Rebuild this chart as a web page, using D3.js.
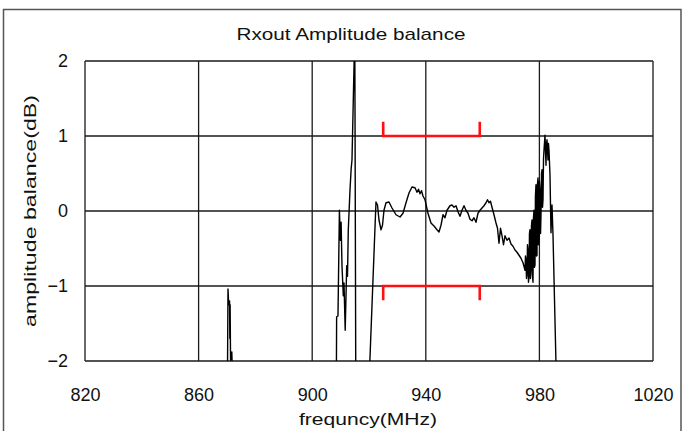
<!DOCTYPE html>
<html><head><meta charset="utf-8">
<script src="https://cdn.jsdelivr.net/npm/d3@7"></script>
<style>html,body{margin:0;padding:0;background:#fff;overflow:hidden}svg{display:block}text{font-family:"Liberation Sans",Arial,sans-serif;fill:#111}</style>
</head><body>
<svg id="chart" width="683" height="431"></svg>
<script>
// ---- data ----
const title = "Rxout Amplitude balance";
const xLabel = "frequncy(MHz)";
const yLabel = "amplitude balance(dB)";
const xTicks = [820, 860, 900, 940, 980, 1020];
const yTicks = [2, 1, 0, -1, -2];
// spec window (MHz) and limits (dB)
const specFreq = [925, 959];
const specLimits = [1, -1];

// measured trace, split into pieces (values beyond +/-2 dB leave the plot)
const seg1Freq = [870.15, 870.35, 870.6, 870.9, 871.0, 871.1, 871.25, 871.7, 872.0];
const seg1Val  = [-2.3, -1.04, -1.25, -1.2, -1.7, -1.25, -1.99, -1.88, -2.3];

const seg2Freq = [908.5, 908.6, 909.08, 909.58, 909.93, 910.18, 910.49, 910.95, 911.2, 911.62, 912.15, 912.43, 912.71, 913.31, 913.73, 914.01, 914.47, 914.82, 915.0, 915.35];
const seg2Val  = [-2.3, -1.41, -1.40, 0.01, -0.39, -0.15, -0.73, -1.13, -0.96, -1.59, -0.73, -0.87, -0.25, 0.28, 0.57, 0.68, 1.48, 2.1, 2.3, -2.3];

const seg3Freq = [920.2, 922.46, 922.99, 923.52, 924.23, 924.75, 925.28, 925.99, 927.04, 928.10, 929.51, 930.92, 931.97, 933.03, 934.08, 935.14, 936.2, 936.9, 937.43, 937.96, 938.49, 939.01, 939.72, 940.77, 941.83, 942.89, 943.94, 944.65, 945.35, 946.06, 946.76, 947.46, 948.52, 949.23, 949.93, 950.63, 951.34, 952.04, 952.75, 953.45, 954.15, 954.86, 955.56, 956.27, 956.97, 957.68, 958.38, 959.08, 959.79, 960.49, 961.2, 961.73, 962.25, 962.78, 963.31, 964.01, 964.72, 965.25, 965.77, 966.3, 966.83, 967.36, 967.89, 968.59, 969.3, 970.0, 970.7, 971.41, 972.11, 972.82, 973.52, 974.23, 974.93, 975.1, 975.28, 975.45, 975.63, 975.8, 975.99, 976.15, 976.34, 976.5, 976.69, 976.85, 977.04, 977.2, 977.39, 977.55, 977.75, 977.9, 978.1, 978.25, 978.45, 978.6, 978.8, 978.95, 979.15, 979.3, 979.5, 979.65, 979.86, 980.0, 980.21, 980.4, 980.56, 980.75, 980.92, 981.1, 981.27, 981.45, 981.62, 981.97, 982.32, 982.5, 982.68, 983.03, 983.2, 983.38, 983.73, 984.08, 984.44, 984.79, 985.85, 986.2];
const seg3Val  = [-2.1, 0.12, 0.08, -0.12, -0.25, -0.19, 0.01, 0.11, 0.12, 0.04, -0.05, -0.08, -0.03, 0.11, 0.24, 0.32, 0.31, 0.25, 0.29, 0.23, 0.27, 0.2, 0.15, -0.03, -0.16, -0.2, -0.25, -0.28, -0.19, -0.05, -0.09, 0.01, 0.07, 0.08, 0.05, 0.07, -0.01, -0.07, 0.01, 0.07, 0.01, -0.03, -0.11, -0.13, -0.09, -0.15, -0.03, 0.01, 0.04, 0.07, 0.11, 0.15, 0.11, 0.13, 0.05, -0.05, -0.16, -0.23, -0.43, -0.23, -0.33, -0.45, -0.33, -0.39, -0.36, -0.44, -0.47, -0.52, -0.55, -0.59, -0.63, -0.69, -0.79, -0.6, -0.65, -0.9, -0.85, -0.45, -0.52, -0.95, -0.88, -0.3, -0.25, -0.9, -0.79, -0.2, -0.12, -0.85, -0.95, -0.1, 0.01, -0.75, -0.72, 0.2, 0.35, -0.6, -0.59, 0.35, 0.44, -0.45, -0.39, 0.4, 0.28, -0.3, -0.05, 0.5, 0.55, 0.05, 0.15, 0.7, 0.81, 1.01, 0.61, 0.9, 0.95, 0.68, 0.9, 0.81, 0.48, -0.29, 0.08, -0.32, -2.05, -2.3];

// ---- chart ----
const svg = d3.select("#chart");
const m = {left: 85, right: 653, top: 61, bottom: 361};
const FONT = "Liberation Sans, Arial, sans-serif";

// outer frame (cropped at bottom)
svg.append("rect").attr("x", 3.5).attr("y", 9.5).attr("width", 677.5).attr("height", 430)
  .attr("fill", "none").attr("stroke", "#555").attr("stroke-width", 1.5);

const x = d3.scaleLinear().domain([820, 1020]).range([m.left, m.right]);
const y = d3.scaleLinear().domain([-2, 2]).range([m.bottom, m.top]);

svg.append("defs").append("clipPath").attr("id", "plotclip")
  .append("rect").attr("x", m.left).attr("y", m.top)
  .attr("width", m.right - m.left).attr("height", m.bottom - m.top);

// grid
const grid = svg.append("g").attr("stroke", "#1a1a1a").attr("stroke-width", 1.3);
grid.selectAll("line.v").data(xTicks).join("line").attr("class", "v")
  .attr("x1", d => x(d)).attr("x2", d => x(d)).attr("y1", m.top).attr("y2", m.bottom);
grid.selectAll("line.h").data(yTicks).join("line").attr("class", "h")
  .attr("y1", d => y(d)).attr("y2", d => y(d)).attr("x1", m.left).attr("x2", m.right);

// axes labels
const xAxis = d3.axisBottom(x).tickValues(xTicks).tickSize(0).tickPadding(27).tickFormat(d3.format("d"));
const gx = svg.append("g").attr("transform", `translate(0,${m.bottom})`).call(xAxis);
gx.select(".domain").remove();
gx.selectAll("text").attr("font-size", 18).attr("font-family", FONT).attr("fill", "#111");

const yAxis = d3.axisLeft(y).tickValues(yTicks).tickSize(0).tickPadding(17)
  .tickFormat(d => d < 0 ? "\u2212" + Math.abs(d) : String(d));
const gy = svg.append("g").attr("transform", `translate(${m.left},0)`).call(yAxis);
gy.select(".domain").remove();
gy.selectAll("text").attr("font-size", 18).attr("font-family", FONT).attr("fill", "#111");

// titles
svg.append("text").attr("x", 351).attr("y", 40).attr("text-anchor", "middle")
  .attr("font-size", 17).attr("textLength", 229).attr("lengthAdjust", "spacingAndGlyphs").text(title);
svg.append("text").attr("x", 368).attr("y", 425).attr("text-anchor", "middle")
  .attr("font-size", 17).attr("textLength", 138).attr("lengthAdjust", "spacingAndGlyphs").text(xLabel);
svg.append("text").attr("transform", `translate(36,${(m.top + m.bottom) / 2}) rotate(-90)`)
  .attr("text-anchor", "middle").attr("font-size", 17)
  .attr("textLength", 232).attr("lengthAdjust", "spacingAndGlyphs").text(yLabel);

// spec markers
const spec = svg.append("g").attr("stroke", "#ff1010").attr("stroke-width", 2.6).attr("fill", "none");
specLimits.forEach(lim => {
  const dir = lim > 0 ? 0.19 : -0.19;
  spec.append("path").attr("d", d3.line()([
    [x(specFreq[0]), y(lim + dir)], [x(specFreq[0]), y(lim)],
    [x(specFreq[1]), y(lim)], [x(specFreq[1]), y(lim + dir)]
  ]));
});

// trace
const line = d3.line().x(d => x(d[0])).y(d => y(d[1]));
const segs = [[seg1Freq, seg1Val], [seg2Freq, seg2Val], [seg3Freq, seg3Val]];
const tg = svg.append("g").attr("clip-path", "url(#plotclip)");
segs.forEach(([f, v]) => {
  tg.append("path").attr("d", line(f.map((d, i) => [d, v[i]])))
    .attr("fill", "none").attr("stroke", "#000").attr("stroke-width", 1.4).attr("stroke-linejoin", "round");
});
</script>
</body></html>
